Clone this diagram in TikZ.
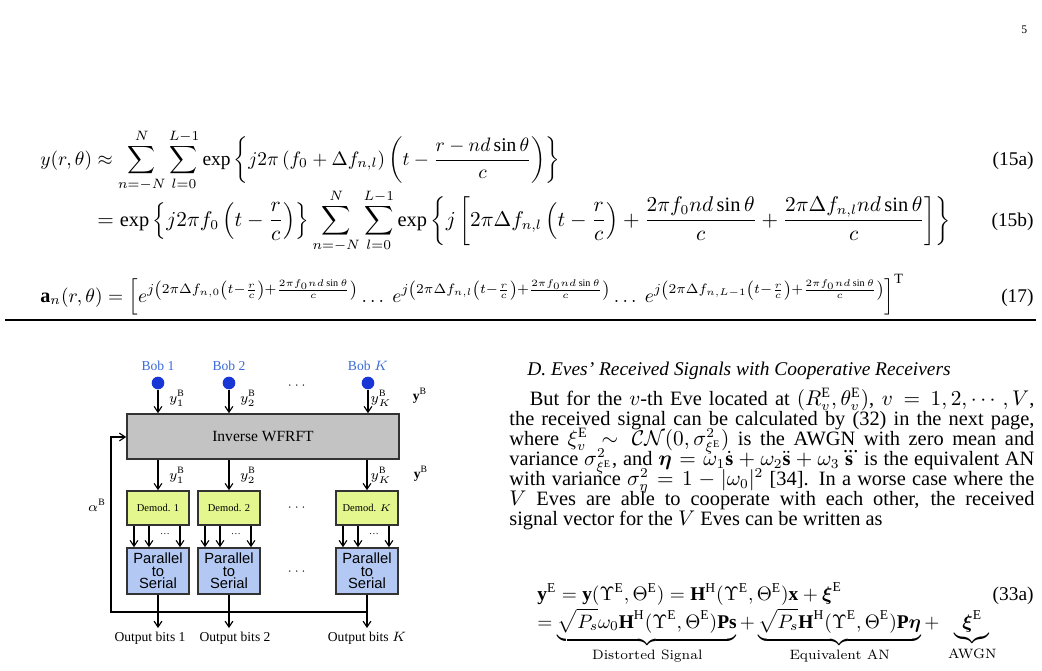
\documentclass[tikz,border=0pt]{standalone}
\usepackage{amsmath,amssymb}
\usepackage{fontspec}
\setmainfont{Liberation Serif}
\newfontfamily\arialf{Liberation Sans}
\usetikzlibrary{arrows.meta}
\definecolor{bobblue}{HTML}{3A6BD8}
\definecolor{dotblue}{HTML}{1836D6}
\definecolor{boxgray}{HTML}{C3C3C3}
\definecolor{boxyel}{HTML}{E4F68E}
\definecolor{boxblu}{HTML}{B3C9F3}
\newlength\uu \setlength\uu{0.515pt}
\begin{document}
\begin{tikzpicture}[x=\uu,y=-\uu,
  blk/.style={draw=black!80,line width=0.8pt,minimum width=62\uu,minimum height=34\uu,inner sep=0pt},
  arr/.style={-{Straight Barb[length=3pt,width=4pt]},line width=0.6pt},
  lab/.style={font=\fontsize{6.2}{7}\selectfont,inner sep=1pt},
  ylab/.style={font=\fontsize{7}{8}\selectfont,inner sep=1pt},
  eqn/.style={inner sep=0pt,anchor=base west}]
\useasboundingbox (0,0) rectangle (1042,670);
% page number
\node[font=\fontsize{6}{7}\selectfont,anchor=base east] (pg) at (1034,33) {5};
% equations
\node[eqn] (e15a) at (40,165) {$\displaystyle y(r,\theta)\approx\sum_{n=-N}^{N}\sum_{l=0}^{L-1}\exp\left\{j2\pi\left(f_0+\Delta f_{n,l}\right)\left(t-\frac{r-nd\sin\theta}{c}\right)\right\}$};
\node[eqn,anchor=base east] (n15a) at (1034,165) {(15a)};
\node[eqn,font=\fontsize{10.5}{12}\selectfont] (e15b) at (97,226) {$\displaystyle =\exp\left\{j2\pi f_0\left(t-\frac{r}{c}\right)\right\}\sum_{n=-N}^{N}\sum_{l=0}^{L-1}\exp\left\{j\left[2\pi\Delta f_{n,l}\left(t-\frac{r}{c}\right)+\frac{2\pi f_0nd\sin\theta}{c}+\frac{2\pi\Delta f_{n,l}nd\sin\theta}{c}\right]\right\}$};
\node[eqn,anchor=base east] (n15b) at (1034,226) {(15b)};
\node[eqn,font=\fontsize{10.4}{12}\selectfont] (e17) at (40,302) {$\displaystyle \mathbf{a}_n(r,\theta)=\left[e^{j\left(2\pi\Delta f_{n,0}\left(t-\frac{r}{c}\right)+\frac{2\pi f_0nd\sin\theta}{c}\right)}\dots\ e^{j\left(2\pi\Delta f_{n,l}\left(t-\frac{r}{c}\right)+\frac{2\pi f_0nd\sin\theta}{c}\right)}\dots\ e^{j\left(2\pi\Delta f_{n,L-1}\left(t-\frac{r}{c}\right)+\frac{2\pi f_0nd\sin\theta}{c}\right)}\right]^{\mathrm{T}}$};
\node[eqn,anchor=base east] (n17) at (1034,302) {(17)};
\coordinate (r1) at (5,320); \coordinate (r2) at (1036,320);
\draw[line width=0.6pt] (r1) -- (r2);
% diagram
\foreach \i/\x/\t in {1/158/Bob 1,2/229/Bob 2,3/368/Bob $K$}{
  \node[ylab,text=bobblue] (bob\i) at (\x,366) {\t};
  \node[circle,fill=dotblue,inner sep=0pt,minimum size=6.5pt] (d\i) at (\x,383) {};
}
\node[blk,fill=boxgray,minimum width=272\uu,minimum height=45\uu,font=\fontsize{8}{9}\selectfont] (iw) at (263,436.5) {Inverse WFRFT};
\foreach \i/\x/\s in {1/158/Demod. 1,2/229/Demod. 2,3/367/Demod. $K$}{
  \node[blk,fill=boxyel,font=\fontsize{5.4}{6}\selectfont] (dm\i) at (\x,508) {\s};
  \node[blk,fill=boxblu,minimum height=46\uu,font=\arialf\fontsize{7.6}{6.4}\selectfont,align=center] (ps\i) at (\x,571) {Parallel\\to\\Serial};
  \draw[arr] (d\i) -- (d\i|-iw.north);
  \draw[arr] (iw.south-|dm\i) -- (dm\i);
  \foreach \o in {-24,-9,22}{ \draw[arr] ([xshift=\o\uu]dm\i.south) -- ([xshift=\o\uu]ps\i.north); }
  \node[lab,font=\fontsize{5}{5}\selectfont] (pd\i) at ([xshift=7\uu,yshift=-8\uu]dm\i.south) {\dots};
  \coordinate (o\i) at (\x,628);
  \draw[arr] (ps\i) -- (o\i);
}
\node[ylab,anchor=north] (ot1) at (150,630) {Output bits 1};
\node[ylab,anchor=north] (ot2) at (235,630) {Output bits 2};
\node[ylab,anchor=north] (ot3) at (367,630) {Output bits $K$};
\node[ylab] at (177,398) {$y_1^{\mathrm B}$};
\node[ylab] at (248,398) {$y_2^{\mathrm B}$};
\node[ylab] at (381,398) {$y_K^{\mathrm B}$};
\node[ylab] at (177,475) {$y_1^{\mathrm B}$};
\node[ylab] at (248,475) {$y_2^{\mathrm B}$};
\node[ylab] at (381,475) {$y_K^{\mathrm B}$};
\node[ylab] at (420,396) {$\mathbf{y}^{\mathrm B}$};
\node[ylab] at (421,474) {$\mathbf{y}^{\mathrm B}$};
\node[lab] at (298,386) {$\cdots$};
\node[lab] at (298,508) {$\cdots$};
\node[lab] at (298,572) {$\cdots$};
\node[ylab] at (97,505) {$\alpha^{\mathrm B}$};
\coordinate (f1) at (ps3.south|-0,612); \coordinate (f2) at (111,612); \coordinate (f3) at (111,437);
\draw[arr] (f1) -- (f2) -- (f3) -- (iw.west|-f3);
% right column
\node[anchor=base west,inner sep=0pt,font=\itshape] (hd) at (527,375) {D. Eves' Received Signals with Cooperative Receivers};
\node[anchor=north west,inner sep=0pt,text width=525\uu,align=justify] (par) at (509,388) {\fontsize{10.5}{10.3}\selectfont\lineskiplimit=-10pt\lineskip=0pt\hspace*{1em}But for the $v$-th Eve located at $(R_v^{\mathrm E},\theta_v^{\mathrm E})$, $v=1,2,\cdots,V$,\linebreak the received signal can be calculated by (32) in the next page,\linebreak where $\xi_v^{\mathrm E}\sim\mathcal{CN}(0,\sigma^2_{\xi^{\mathrm E}})$ is the AWGN with zero mean and\linebreak variance $\sigma^2_{\xi^{\mathrm E}}$, and $\boldsymbol{\eta}=\omega_1\dot{\mathbf s}+\omega_2\ddot{\mathbf s}+\omega_3\dddot{\mathbf s}$ is the equivalent AN\linebreak with variance $\sigma_\eta^2=1-|\omega_0|^2$ [34]. In a worse case where the\linebreak $V$ Eves are able to cooperate with each other, the received\linebreak signal vector for the $V$ Eves can be written as\par};
\node[eqn] (e33a) at (537,600) {$\mathbf{y}^{\mathrm E}=\mathbf{y}(\Upsilon^{\mathrm E},\Theta^{\mathrm E})=\mathbf{H}^{\mathrm H}(\Upsilon^{\mathrm E},\Theta^{\mathrm E})\mathbf{x}+\boldsymbol{\xi}^{\mathrm E}$};
\node[eqn,anchor=base east] (n33a) at (1034,600) {(33a)};
\node[eqn] (e33b) at (537,628) {$=\underbrace{\sqrt{P_s}\omega_0\mathbf{H}^{\mathrm H}(\Upsilon^{\mathrm E},\Theta^{\mathrm E})\mathbf{Ps}}_{\text{\fontfamily{lmr}\selectfont Distorted Signal}}+\underbrace{\sqrt{P_s}\mathbf{H}^{\mathrm H}(\Upsilon^{\mathrm E},\Theta^{\mathrm E})\mathbf{P}\boldsymbol{\eta}}_{\text{\fontfamily{lmr}\selectfont Equivalent AN}}+\;\underbrace{\boldsymbol{\xi}^{\mathrm E}}_{\text{\fontfamily{lmr}\selectfont AWGN}}$};
\end{tikzpicture}
\end{document}
